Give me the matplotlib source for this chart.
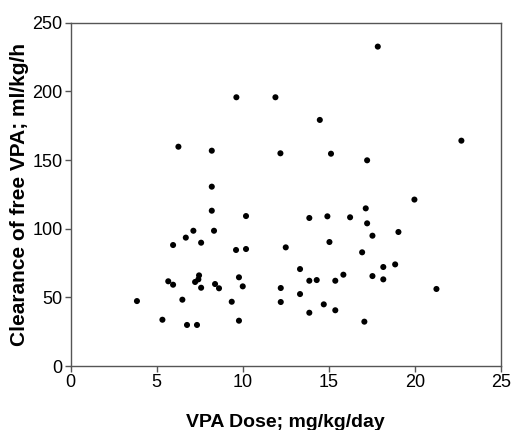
import matplotlib.pyplot as plt

FONT = "Liberation Sans"

# VPA dose (mg/kg/day) and clearance of free VPA (ml/kg/h)
dose = [9.63, 6.26, 8.20, 8.20, 17.85, 11.90, 14.48, 12.19, 15.13, 17.23, 22.71,
        19.98, 8.20, 10.19, 7.13, 8.33, 6.69, 7.58, 5.95, 9.61, 10.19, 9.78,
        7.46, 7.42, 7.23, 5.67, 5.95, 7.58, 8.39, 8.62, 10.00, 6.49, 9.36,
        3.85, 5.33, 9.78, 6.76, 7.34,
        17.15, 14.92, 13.87, 16.24, 17.23, 19.05, 17.54, 15.04, 12.50, 16.94,
        13.33, 18.86, 18.17, 15.85, 17.54, 13.87, 14.30, 15.38, 18.17, 12.21,
        21.26, 13.33, 12.21, 14.71, 15.38, 13.87, 17.07]
clearance = [195.7, 159.7, 156.8, 130.6, 232.6, 195.7, 179.2, 154.9, 154.6, 149.8, 164.1,
             121.2, 113.1, 109.2, 98.5, 98.5, 93.5, 89.8, 88.1, 84.5, 85.2, 64.6,
             66.0, 63.1, 61.2, 61.7, 59.2, 57.0, 59.7, 56.6, 58.0, 48.3, 46.8,
             47.3, 33.7, 33.0, 29.9, 29.9,
             114.8, 109.0, 107.8, 108.3, 103.9, 97.6, 94.9, 90.3, 86.4, 82.8,
             70.6, 74.0, 72.1, 66.5, 65.5, 62.1, 62.6, 62.1, 63.1, 56.8,
             56.1, 52.4, 46.6, 44.9, 40.6, 38.8, 32.3]

xticks = [0, 5, 10, 15, 20, 25]
yticks = [0, 50, 100, 150, 200, 250]

plt.rcParams['font.family'] = [FONT, 'DejaVu Sans']

fig = plt.figure(figsize=(5.11, 4.30), dpi=100)
ax = fig.add_axes([0.1384, 0.1488, 0.8416, 0.7984])

ax.scatter(dose, clearance, s=19, color="black", edgecolors="none", zorder=3)

ax.set_xlim(0, 25)
ax.set_ylim(0, 250)
ax.set_xticks(xticks)
ax.set_yticks(yticks)
ax.tick_params(direction="out", length=4, width=1, color="#555555",
               labelsize=13, pad=2)
for sp in ax.spines.values():
    sp.set_color("#555555")
    sp.set_linewidth(1)

ax.set_xlabel("VPA Dose; mg/kg/day", fontsize=14, fontweight="bold", labelpad=16)
ax.set_ylabel("Clearance of free VPA; ml/kg/h", fontsize=15, fontweight="bold", labelpad=2)

fig.savefig("out.png", dpi=100)
